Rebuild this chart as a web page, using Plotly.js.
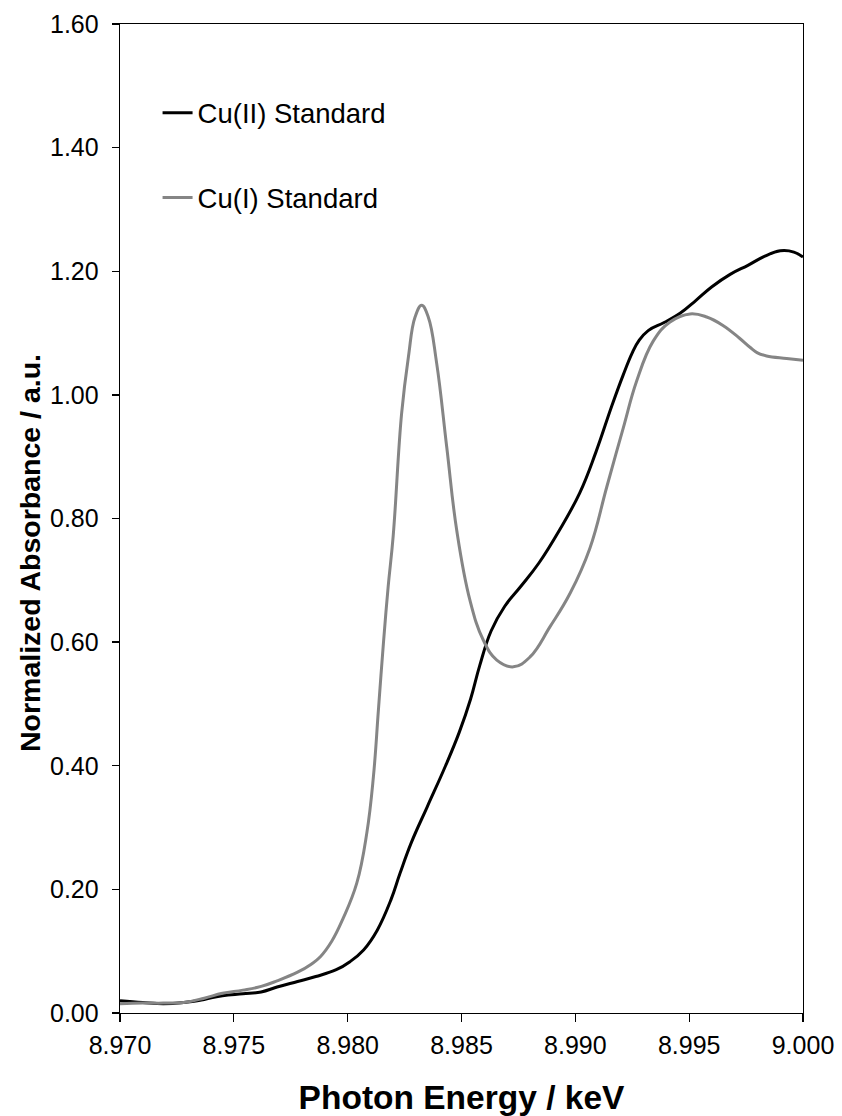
<!DOCTYPE html>
<html>
<head>
<meta charset="utf-8">
<script src="https://cdn.plot.ly/plotly-3.0.1.min.js"></script>
<style>
  html, body { margin: 0; padding: 0; background: #ffffff; }
  #chart { width: 842px; height: 1116px; }
</style>
</head>
<body>
<div id="chart"></div>
<script>
// Cu K-edge XANES: normalized absorbance vs photon energy (keV)

const cu2Energy = [8.97000, 8.97100, 8.97190, 8.97280, 8.97370, 8.97450, 8.97540, 8.97620, 8.97690,
  8.97780, 8.97860, 8.97950, 8.98010, 8.98070, 8.98130, 8.98190, 8.98230, 8.98280, 8.98350,
  8.98430, 8.98490, 8.98540, 8.98580, 8.98630, 8.98690, 8.98760, 8.98840, 8.98930, 8.99020,
  8.99090, 8.99160, 8.99210, 8.99250, 8.99280, 8.99320, 8.99390, 8.99460, 8.99530, 8.99600,
  8.99680, 8.99760, 8.99830, 8.99900, 8.99960, 9.00000];
const cu2Absorbance = [0.020, 0.017, 0.015, 0.017, 0.022, 0.028, 0.031, 0.034, 0.042,
  0.051, 0.059, 0.070, 0.083, 0.102, 0.134, 0.183, 0.226, 0.276, 0.334,
  0.400, 0.454, 0.508, 0.562, 0.618, 0.658, 0.690, 0.728, 0.781, 0.842,
  0.907, 0.982, 1.032, 1.068, 1.088, 1.104, 1.117, 1.132, 1.153, 1.175,
  1.195, 1.210, 1.224, 1.233, 1.231, 1.223];

const cu1Energy = [8.97000, 8.97100, 8.97190, 8.97280, 8.97370, 8.97450, 8.97540, 8.97620, 8.97690,
  8.97780, 8.97840, 8.97880, 8.97930, 8.97980, 8.98040, 8.98084, 8.98113, 8.98135, 8.98157,
  8.98178, 8.98200, 8.98237, 8.98267, 8.98296, 8.98325, 8.98354, 8.98391, 8.98435, 8.98479,
  8.98537, 8.98596, 8.98655, 8.98728, 8.98801, 8.98889, 8.98977, 8.99064, 8.99138, 8.99211,
  8.99269, 8.99342, 8.99416, 8.99504, 8.99577, 8.99650, 8.99720, 8.99767, 8.99800, 8.99840,
  8.99928, 9.00000];
const cu1Absorbance = [0.015, 0.016, 0.016, 0.017, 0.024, 0.032, 0.037, 0.043, 0.052,
  0.066, 0.079, 0.091, 0.116, 0.153, 0.210, 0.291, 0.382, 0.490, 0.598,
  0.690, 0.772, 0.970, 1.062, 1.126, 1.145, 1.126, 1.051, 0.916, 0.781,
  0.668, 0.603, 0.571, 0.560, 0.576, 0.625, 0.679, 0.752, 0.851, 0.947,
  1.022, 1.087, 1.118, 1.131, 1.126, 1.112, 1.092, 1.077, 1.068, 1.063,
  1.059, 1.056];

const seriesNames = ["Cu(II) Standard", "Cu(I) Standard"];
const seriesColors = ["#000000", "#858585"];

const FONT = "Liberation Sans, Arial, sans-serif";

const traces = [
  {
    x: cu2Energy, y: cu2Absorbance, name: seriesNames[0], legendgroup: "a",
    type: "scatter", mode: "lines",
    line: { color: seriesColors[0], width: 3, shape: "spline", smoothing: 1.2 }
  },
  {
    x: cu1Energy, y: cu1Absorbance, name: seriesNames[1], legendgroup: "b",
    type: "scatter", mode: "lines",
    line: { color: seriesColors[1], width: 3, shape: "spline", smoothing: 1.2 }
  }
];

const layout = {
  width: 842, height: 1116,
  margin: { l: 120, r: 39, t: 24, b: 103 },
  paper_bgcolor: "#ffffff", plot_bgcolor: "#ffffff",
  font: { family: FONT, color: "#000000", size: 25 },
  showlegend: true,
  legend: {
    x: 0.055, y: 0.935, xanchor: "left", yanchor: "top",
    bgcolor: "rgba(0,0,0,0)", borderwidth: 0,
    font: { family: FONT, size: 27.5, color: "#000000" },
    traceorder: "grouped", tracegroupgap: 46, itemwidth: 30
  },
  xaxis: {
    range: [8.970, 9.000], dtick: 0.005, tick0: 8.970, tickformat: ".3f",
    showgrid: false, zeroline: false,
    showline: true, linecolor: "#000000", linewidth: 1.3, mirror: true,
    ticks: "outside", ticklen: 8, tickwidth: 1.3, tickcolor: "#000000",
    tickfont: { family: FONT, size: 25 }, ticklabelstandoff: 2,
    title: { text: "<b>Photon Energy / keV</b>", font: { family: FONT, size: 33.5 }, standoff: 30 },
    automargin: false
  },
  yaxis: {
    range: [0, 1.6], dtick: 0.2, tick0: 0, tickformat: ".2f",
    showgrid: false, zeroline: false,
    showline: true, linecolor: "#000000", linewidth: 1.3, mirror: true,
    ticks: "outside", ticklen: 7, tickwidth: 1.3, tickcolor: "#000000",
    tickfont: { family: FONT, size: 25 }, ticklabelstandoff: 8,
    automargin: false
  },
  annotations: [{
    text: "<b>Normalized Absorbance / a.u.</b>",
    xref: "paper", yref: "paper", x: -0.1325, y: 0.4646,
    xanchor: "center", yanchor: "middle", textangle: -90, showarrow: false,
    font: { family: FONT, size: 28.5, color: "#000000" }
  }]
};

Plotly.newPlot("chart", traces, layout, { staticPlot: true, displayModeBar: false });
</script>
</body>
</html>
